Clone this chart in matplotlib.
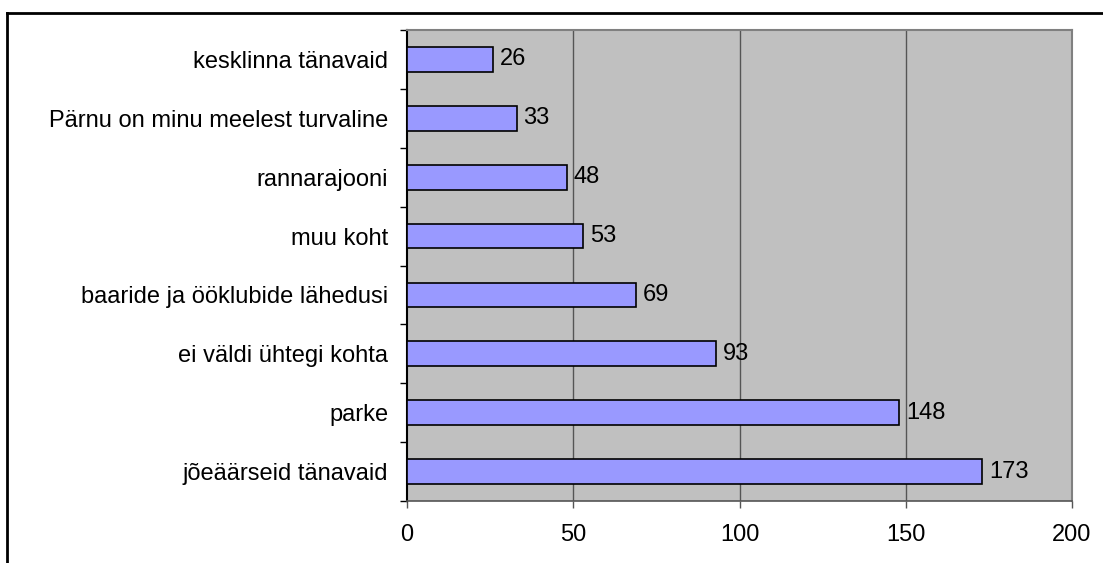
import matplotlib
matplotlib.use("Agg")
import matplotlib.pyplot as plt
from matplotlib.lines import Line2D

plt.rcParams['font.family'] = ['Liberation Sans', 'DejaVu Sans']

categories = [
    "kesklinna tänavaid",
    "Pärnu on minu meelest turvaline",
    "rannarajooni",
    "muu koht",
    "baaride ja ööklubide lähedusi",
    "ei väldi ühtegi kohta",
    "parke",
    "jõeäärseid tänavaid",
]
values = [26, 33, 48, 53, 69, 93, 148, 173]
xticks = [0, 50, 100, 150, 200]

W, H = 1103, 563
fs = 17
fig = plt.figure(figsize=(W / 100, H / 100), dpi=100)
ax = fig.add_axes([407 / W, 1 - 501 / H, (1072 - 407) / W, (501 - 30) / H])

ax.set_facecolor("#C0C0C0")
pos = list(range(len(categories)))
bars = ax.barh(pos, values, height=0.42, color="#9999FF", edgecolor="black",
               linewidth=1.2, zorder=3)
for b, v in zip(bars, values):
    ax.text(b.get_width() + 2, b.get_y() + b.get_height() / 2, str(v),
            va="center", ha="left", fontsize=fs, zorder=4)

ax.set_xlim(0, 200)
ax.set_ylim(len(categories) - 0.5, -0.5)
ax.set_xticks(xticks)
ax.set_xticklabels([str(t) for t in xticks])
for t in xticks[1:]:
    ax.axvline(t, color="#555555", linewidth=1, zorder=1)

ax.set_yticks(pos)
ax.set_yticklabels(categories)
ax.set_yticks([p - 0.5 for p in pos] + [len(pos) - 0.5], minor=True)
ax.tick_params(axis="y", which="major", length=0, pad=13.5, labelsize=fs)
ax.tick_params(axis="y", which="minor", length=5, width=1, color="black")
ax.tick_params(axis="x", length=5, width=1, color="#555555", pad=11.5, labelsize=fs)

for s in ["top", "right"]:
    ax.spines[s].set_color("#808080")
    ax.spines[s].set_linewidth(1.5)
ax.spines["left"].set_color("black")
ax.spines["left"].set_linewidth(1.5)
ax.spines["bottom"].set_color("#555555")
ax.spines["bottom"].set_linewidth(1.2)

# outer chart border (top and left edges visible)
fig.add_artist(Line2D([7 / W, 1], [1 - 13 / H, 1 - 13 / H], color="black",
                      linewidth=2, transform=fig.transFigure))
fig.add_artist(Line2D([7 / W, 7 / W], [0, 1 - 13 / H], color="black",
                      linewidth=2, transform=fig.transFigure))

fig.savefig("out.png", dpi=100)
